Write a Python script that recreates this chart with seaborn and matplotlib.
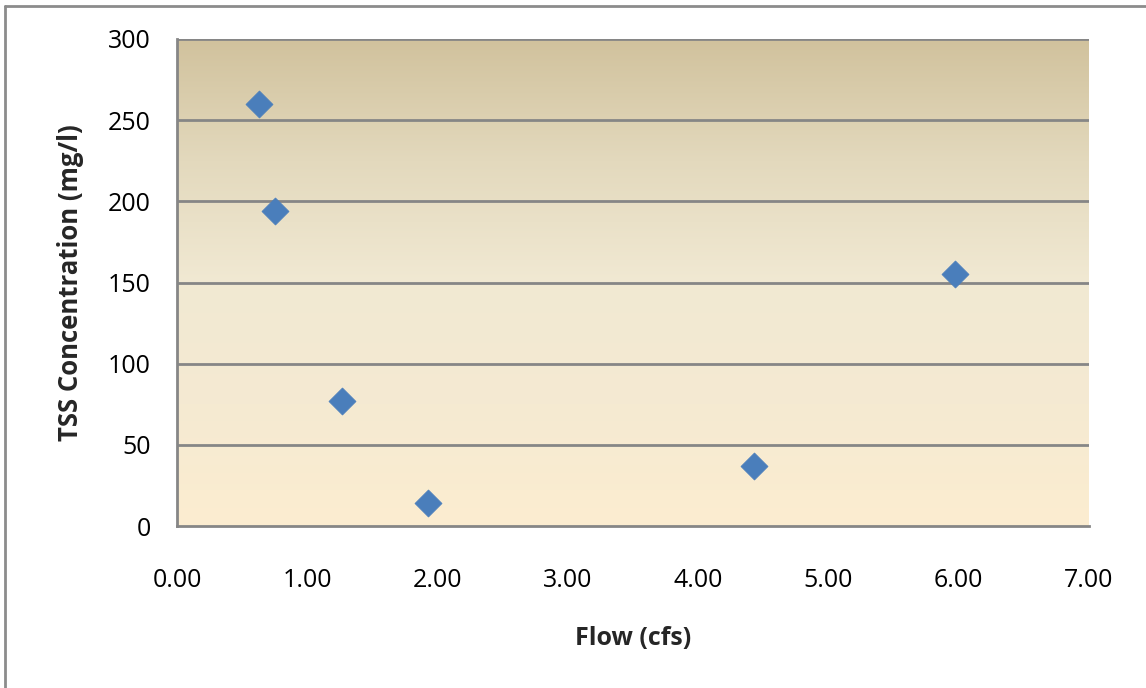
import numpy as np
import pandas as pd
import matplotlib
matplotlib.use("Agg")
import matplotlib.pyplot as plt
from matplotlib.colors import LinearSegmentedColormap
from matplotlib.lines import Line2D
import seaborn as sns

flow = [0.63, 0.75, 1.27, 1.93, 4.43, 5.97]
tss = [260, 194, 77, 14, 37, 155]
x_ticks = [0, 1, 2, 3, 4, 5, 6, 7]
y_ticks = [0, 50, 100, 150, 200, 250, 300]

df = pd.DataFrame({"Flow (cfs)": flow, "TSS Concentration (mg/l)": tss})

sns.set_theme(style="white")
plt.rcParams['font.family'] = ['Open Sans', 'DejaVu Sans']

fig = plt.figure(figsize=(11.46, 6.88), dpi=100)
ax = fig.add_axes([177/1146, 1-526/688, (1089-177)/1146, (526-39)/688])

# gradient background (row 0 = top)
cmap = LinearSegmentedColormap.from_list("parch", [
    (0.0, "#D1C29D"), (0.25, "#E3D9BD"), (0.5, "#F1E9D3"), (0.75, "#F5EAD2"), (1.0, "#FCEDD0")])
grad = np.linspace(0, 1, 256).reshape(-1, 1)
ax.imshow(grad, aspect="auto", cmap=cmap, extent=[0, 7, 0, 300], origin="upper", zorder=0)

ax.set_xlim(0, 7)
ax.set_ylim(0, 300)
for yv in y_ticks[1:]:
    ax.axhline(yv, color="#868686", lw=2, zorder=1)

sns.scatterplot(data=df, x="Flow (cfs)", y="TSS Concentration (mg/l)", marker="D",
                s=190, color="#4A7EBB", edgecolor="#4A7EBB", linewidth=0.5, ax=ax, zorder=3)

ax.set_xticks(x_ticks)
ax.set_xticklabels([f"{v:.2f}" for v in x_ticks])
ax.set_yticks(y_ticks)
ax.set_yticklabels([str(v) for v in y_ticks])
ax.tick_params(axis="both", length=0, labelsize=18, colors="black")
ax.tick_params(axis="x", pad=30)
ax.tick_params(axis="y", pad=19)
ax.set_xlabel("Flow (cfs)", fontsize=18, fontweight="bold", labelpad=24)
ax.set_ylabel("TSS Concentration (mg/l)", fontsize=18.5, fontweight="bold", labelpad=17)

for side in ["top", "right"]:
    ax.spines[side].set_visible(False)
for side in ["left", "bottom"]:
    ax.spines[side].set_color("#868686")
    ax.spines[side].set_linewidth(2)
ax.spines["left"].set_zorder(4)
ax.spines["bottom"].set_zorder(4)

# outer chart border (top and left visible)
fig.add_artist(Line2D([5/1146, 1], [1-6/688, 1-6/688], color="#8C8C8C", lw=2, transform=fig.transFigure))
fig.add_artist(Line2D([5/1146, 5/1146], [0, 1-6/688], color="#8C8C8C", lw=2, transform=fig.transFigure))

fig.savefig("out.png", dpi=100)
